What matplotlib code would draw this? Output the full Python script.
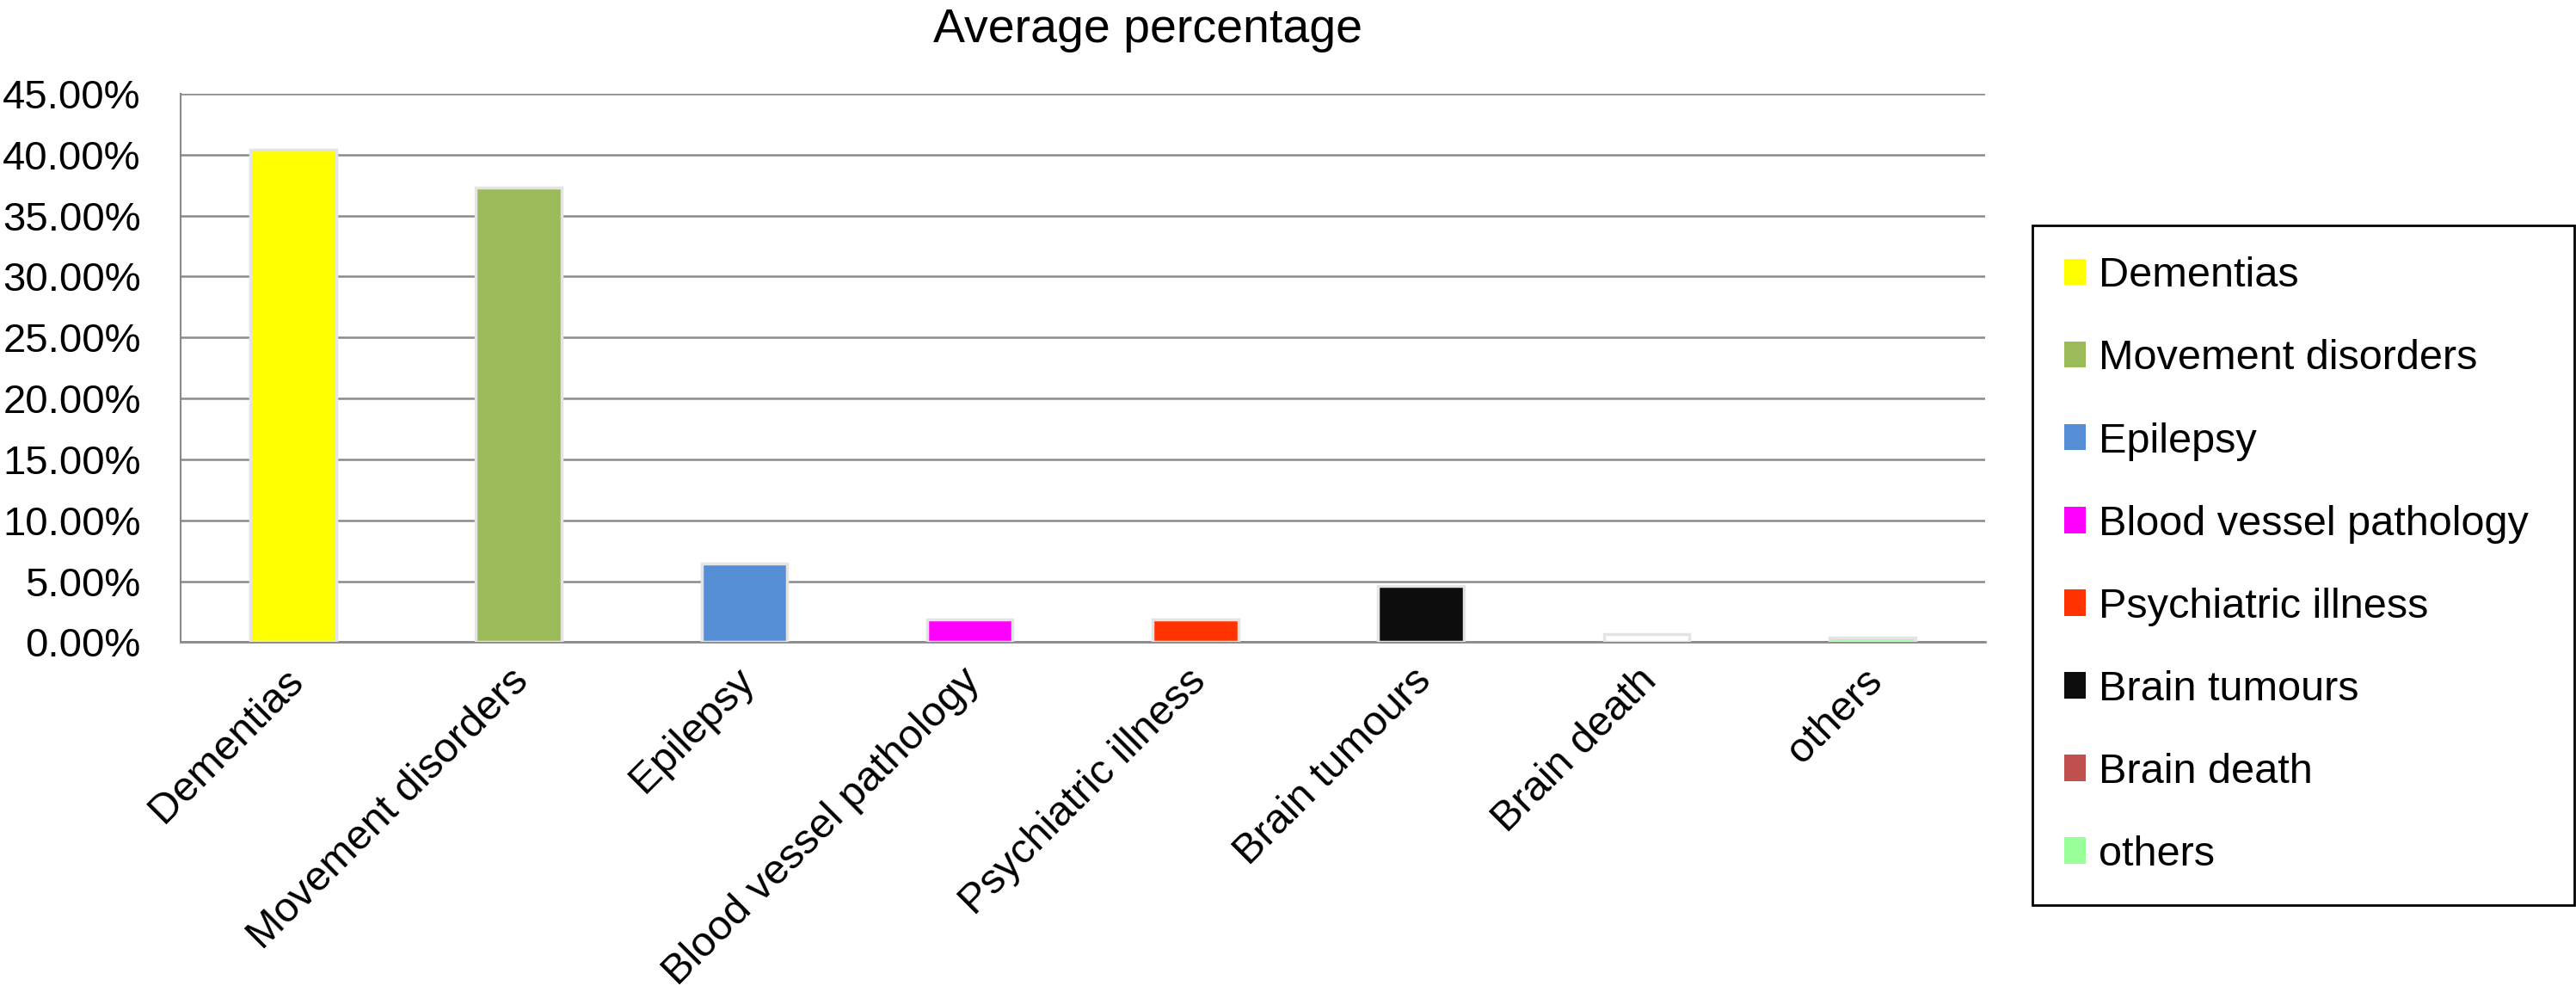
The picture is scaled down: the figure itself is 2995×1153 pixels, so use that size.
import numpy as np
import matplotlib
matplotlib.use('Agg')
import matplotlib.pyplot as plt
import matplotlib.transforms as mtrans
from matplotlib.patches import Patch
from matplotlib.ticker import FuncFormatter

plt.rcParams['font.family'] = ['Liberation Sans', 'DejaVu Sans']

# datos
categorias = ['Dementias', 'Movement disorders', 'Epilepsy', 'Blood vessel pathology',
              'Psychiatric illness', 'Brain tumours', 'Brain death', 'others']
promedio = [40.4, 37.3, 6.45, 1.9, 1.85, 4.6, 0.7, 0.4]
colores_barra = ['#FFFF00', '#9BBB59', '#558ED5', '#FF00FF',
                 '#FF3300', '#0D0D0D', '#FFFFFF', '#99FF99']
colores_leyenda = ['#FFFF00', '#9BBB59', '#558ED5', '#FF00FF',
                   '#FF3300', '#0D0D0D', '#C0504D', '#99FF99']
yticks = np.arange(0, 46, 5)

fig = plt.figure(figsize=(29.95, 11.53), dpi=100)
ax = fig.add_axes([0.07, 0.3526, 0.7006, 0.5529])

x = np.arange(len(categorias))
ax.bar(x, promedio, width=0.38, color=colores_barra,
       edgecolor='#e4e4e4', linewidth=2.5, zorder=3)

ax.set_xlim(-0.5, len(categorias) - 0.5)
ax.set_ylim(0, 45)
ax.set_yticks(yticks)
ax.yaxis.set_major_formatter(FuncFormatter(lambda v, p: '%.2f%%' % v))
ax.tick_params(axis='y', length=0, pad=33, labelsize=34)
ax.grid(axis='y', color='#8a8a8a', linewidth=1.8, zorder=0)
ax.set_axisbelow(True)

ax.set_xticks(x)
ax.set_xticklabels(categorias, rotation=45, ha='right', va='top',
                   rotation_mode='anchor', fontsize=35)
ax.tick_params(axis='x', length=0, pad=16)
desplaza = mtrans.ScaledTranslation(-11 / 100, 0, fig.dpi_scale_trans)
for lab in ax.get_xticklabels():
    lab.set_transform(lab.get_transform() + desplaza)

for lado in ['top', 'right']:
    ax.spines[lado].set_visible(False)
ax.spines['left'].set_color('#8a8a8a')
ax.spines['left'].set_linewidth(1.5)
ax.spines['bottom'].set_color('#8a8a8a')
ax.spines['bottom'].set_linewidth(2)

fig.text(0.4457, 0.9578, 'Average percentage', fontsize=40,
         ha='center', va='baseline')

manijas = [Patch(facecolor=c, edgecolor='none') for c in colores_leyenda]
leg = fig.legend(manijas, categorias, loc='upper left',
                 bbox_to_anchor=(0.789, 0.7728, 0.2103, 0), mode='expand',
                 borderaxespad=0, fontsize=35, frameon=True, fancybox=False,
                 edgecolor='black', framealpha=1, labelspacing=1.05,
                 handlelength=0.52, handleheight=0.58, handletextpad=0.32,
                 borderpad=0.75)
leg.get_frame().set_linewidth(2)

plt.savefig('out.png', dpi=100)
